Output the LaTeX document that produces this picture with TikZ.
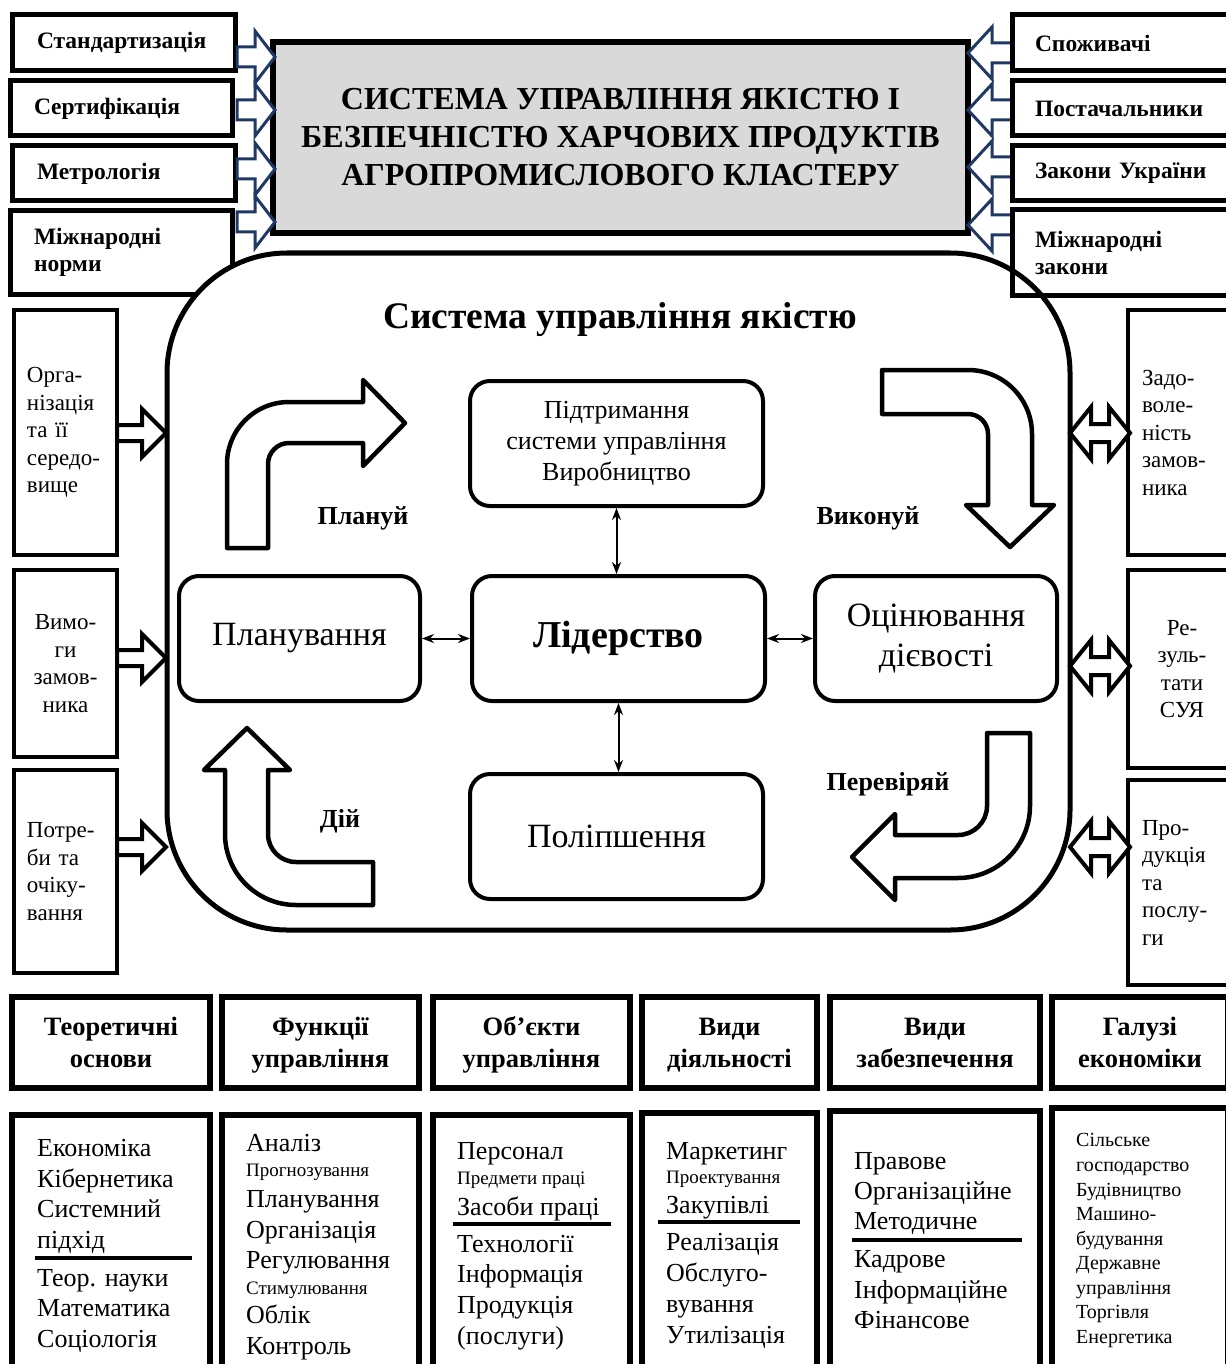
\documentclass[tikz,border=0pt]{standalone}
\usepackage{fontspec}
\setmainfont{Liberation Serif}
\usetikzlibrary{arrows.meta, calc}

\definecolor{arrowblue}{RGB}{31,56,100}
\definecolor{titlegray}{RGB}{217,217,217}

\newcommand{\fs}[2]{\fontsize{#1}{#2}\selectfont}
\newcommand{\sm}{\fontsize{19}{22}\selectfont}

\begin{document}
\begin{tikzpicture}[x=1pt, y=-1pt, >=Stealth,
    thickbox/.style={draw, line width=5pt, inner sep=0pt},
    topbox/.style={thickbox, font=\bfseries\fs{23.5}{27}, align=left},
    sidebox/.style={thickbox, line width=4.5pt, font=\fs{23}{27.5}},
    innerbox/.style={draw, line width=4pt, rounded corners=20pt, align=center},
    headbox/.style={thickbox, line width=6pt, font=\bfseries\fs{26.5}{32}, align=center, text depth=0pt},
    listbox/.style={thickbox, line width=6pt, anchor=north},
    listtext/.style={anchor=base west, inner sep=0pt, font=\fs{26}{30}},
    smalltext/.style={anchor=base west, inner sep=0pt, font=\fs{20}{24}},
    infarrow/.style={draw=arrowblue, line width=3pt, fill=white},
    blkarrow/.style={draw, line width=4pt, fill=white},
    turnarrow/.style={draw, line width=4.5pt, fill=white, line join=round},
    cyclelabel/.style={font=\bfseries\fs{26}{30}},
    seprule/.style={line width=4pt},
  ]
  \useasboundingbox (0,0) rectangle (1225,1364);
  \fill[white] (0,0) rectangle (1225,1364);

  % inputs on the left of the title
  \node[topbox, minimum width=223pt, minimum height=56pt, text width=173pt] (std) at (123.5,43) {Стандартизація};
  \node[topbox, minimum width=222pt, minimum height=55pt, text width=174pt] (cert) at (121,108.5) {Сертифікація};
  \node[topbox, minimum width=223pt, minimum height=55pt, text width=173pt] (metr) at (123.5,173.5) {Метрологія};
  \node[topbox, minimum width=222pt, minimum height=83pt, text width=174pt] (inorm) at (121,252.5) {Міжнародні\\норми};

  % title
  \node[draw, line width=5.5pt, fill=titlegray, minimum width=695pt, minimum height=191pt,
        align=center, font=\bfseries\fs{32}{38}] (title) at (620.5,137.5)
        {СИСТЕМА УПРАВЛІННЯ ЯКІСТЮ І\\БЕЗПЕЧНІСТЮ ХАРЧОВИХ ПРОДУКТІВ\\АГРОПРОМИСЛОВОГО КЛАСТЕРУ};

  \foreach \y in {57,110,169,222}
    \draw[infarrow] (237,\y-10) -- (255,\y-10) -- (255,\y-26) -- (275,\y)
      -- (255,\y+26) -- (255,\y+10) -- (237,\y+10) -- cycle;
  \foreach \y in {53,110,167,225}
    \draw[infarrow] (1012,\y-10) -- (992,\y-10) -- (992,\y-26) -- (968,\y)
      -- (992,\y+26) -- (992,\y+10) -- (1012,\y+10) -- cycle;

  % quality management system
  \node[draw, line width=5pt, fill=white, rounded corners=120pt,
        minimum width=903pt, minimum height=677pt] (qms) at (618.5,591.5) {};
  \node[font=\bfseries\fs{37.5}{42}] (qmstitle) at (620,320) {Система управління якістю};

  % inputs on the right of the title
  \node[topbox, minimum width=228pt, minimum height=56pt, text width=182pt] (cons) at (1126,43) {Споживачі};
  \node[topbox, minimum width=228pt, minimum height=55pt, text width=182pt] (supl) at (1126,108.5) {Постачальники};
  \node[topbox, minimum width=228pt, minimum height=55pt, text width=182pt] (laws) at (1126,173.5) {Закони України};
  \node[topbox, minimum width=228pt, minimum height=85pt, text width=182pt] (ilaws) at (1126,252.5) {Міжнародні\\закони};

  % PDCA
  \node[innerbox, minimum width=293pt, minimum height=125pt, font=\fs{26}{31}] (supp) at (616.5,443.5)
    {Підтримання\\системи управління\\Виробництво};
  \node[innerbox, minimum width=241pt, minimum height=125pt, font=\fs{34}{40}] (plan) at (299.5,638.5) {Планування};
  \node[innerbox, minimum width=293pt, minimum height=125pt, font=\bfseries\fs{38}{44}] (lead) at (618.5,638.5) {Лідерство};
  \node[innerbox, minimum width=242pt, minimum height=125pt, font=\fs{34}{40}] (eval) at (936,638.5) {Оцінювання\\дієвості};
  \node[innerbox, minimum width=293pt, minimum height=125pt, font=\fs{34}{40}] (impr) at (616.5,836.5) {Поліпшення};

  \draw[<->, line width=2pt] (supp.south) -- (supp.south |- lead.north);
  \draw[<->, line width=2pt] (lead.south) -- (lead.south |- impr.north);
  \draw[<->, line width=2pt] (plan.east) -- (lead.west);
  \draw[<->, line width=2pt] (lead.east) -- (eval.west);

  % turning arrows
  \draw[turnarrow] (227,548) -- (227,464) arc[start angle=180, end angle=90, radius=62pt]
    -- (363,402) -- (363,380) -- (405,423) -- (363,466) -- (363,443) -- (289,443)
    arc[start angle=90, end angle=180, radius=21pt] -- (268,548) -- cycle;
  \draw[turnarrow] (882,370) -- (968,370) arc[start angle=90, end angle=0, radius=64pt]
    -- (1032,505) -- (1054,505) -- (1010,547) -- (966,505) -- (988,505) -- (988,434)
    arc[start angle=0, end angle=90, radius=20pt] -- (882,414) -- cycle;
  \draw[turnarrow] (987,733) -- (1030,733) -- (1030,806) arc[start angle=0, end angle=-90, radius=72pt]
    -- (895,878) -- (895,900) -- (852,857) -- (895,814) -- (895,835) -- (958,835)
    arc[start angle=-90, end angle=0, radius=29pt] -- cycle;
  \draw[turnarrow] (373,862) -- (296,862) arc[start angle=270, end angle=180, radius=28pt]
    -- (268,770) -- (290,770) -- (247,728) -- (204,770) -- (225,770) -- (225,834)
    arc[start angle=180, end angle=270, radius=71pt] -- (373,905) -- cycle;

  \node[cyclelabel] (lplan) at (363,518) {Плануй};
  \node[cyclelabel] (ldo) at (868,518) {Виконуй};
  \node[cyclelabel] (lcheck) at (888,784) {Перевіряй};
  \node[cyclelabel] (lact) at (340,821) {Дій};

  % left side
  \node[sidebox, minimum width=103pt, minimum height=245pt, text width=77pt, align=left] (org) at (65.5,432.5)
    {Орга-\\нізація\\та її\\середо-\\вище};
  \node[sidebox, minimum width=103pt, minimum height=187pt, align=center] (req) at (65.5,663.5)
    {Вимо-\\ги\\замов-\\ника};
  \node[sidebox, minimum width=103pt, minimum height=203pt, text width=77pt, align=left] (needs) at (65.5,871.5)
    {Потре-\\би та\\очіку-\\вання};
  \foreach \y in {433,658,847}
    \draw[blkarrow] (117,\y-8) -- (142,\y-8) -- (142,\y-24) -- (166,\y)
      -- (142,\y+24) -- (142,\y+8) -- (117,\y+8) -- cycle;

  % right side
  \node[sidebox, minimum width=108pt, minimum height=245pt, text width=80pt, align=left] (sat) at (1182,432.5)
    {Задо-\\воле-\\ність\\замов-\\ника};
  \node[sidebox, minimum width=108pt, minimum height=198pt, align=center] (res) at (1182,669)
    {Ре-\\зуль-\\тати\\СУЯ};
  \node[sidebox, minimum width=108pt, minimum height=205pt, text width=80pt, align=left] (prod) at (1182,882.5)
    {Про-\\дукція\\та\\послу-\\ги};
  \foreach \y in {433,666,847}
    \draw[blkarrow] (1070,\y) -- (1091,\y-26) -- (1091,\y-9) -- (1109,\y-9) -- (1109,\y-26)
      -- (1130,\y) -- (1109,\y+26) -- (1109,\y+9) -- (1091,\y+9) -- (1091,\y+26) -- cycle;

  % bottom headers
  \node[headbox, minimum width=198pt, minimum height=91pt] (h1) at (111,1042.5) {Теоретичні\\основи};
  \node[headbox, minimum width=197pt, minimum height=91pt] (h2) at (320.5,1042.5) {Функції\\управління};
  \node[headbox, minimum width=197pt, minimum height=91pt] (h3) at (531.5,1042.5) {Об’єкти\\управління};
  \node[headbox, minimum width=175pt, minimum height=91pt] (h4) at (729.5,1042.5) {Види\\діяльності};
  \node[headbox, minimum width=210pt, minimum height=91pt] (h5) at (935,1042.5) {Види\\забезпечення};
  \node[headbox, minimum width=176pt, minimum height=91pt] (h6) at (1140,1042.5) {Галузі\\економіки};

  % bottom lists
  \node[listbox, minimum width=198pt, minimum height=300pt] (b1) at (111,1112) {};
  \node[listbox, minimum width=197pt, minimum height=300pt] (b2) at (320.5,1112) {};
  \node[listbox, minimum width=197pt, minimum height=300pt] (b3) at (531.5,1112) {};
  \node[listbox, minimum width=175pt, minimum height=300pt] (b4) at (729.5,1110) {};
  \node[listbox, minimum width=210pt, minimum height=300pt] (b5) at (935,1108) {};
  \node[listbox, minimum width=176pt, minimum height=300pt] (b6) at (1140,1105) {};

  \foreach \t/\y [count=\i] in {Економіка/1156, Кібернетика/1187, Системний/1217, підхід/1248,
      Теор. науки/1286, Математика/1316, Соціологія/1347}
    \node[listtext] (th-\i) at (37,\y) {\t};
  \draw[seprule] (35,1258) -- (192,1258);

  \foreach \t/\y [count=\i] in {Аналіз/1151, {\sm Прогнозування}/1176, Планування/1207,
      Організація/1238, Регулювання/1268, {\sm Стимулювання}/1294, Облік/1323, Контроль/1354}
    \node[listtext] (fn-\i) at (246,\y) {\t};

  \foreach \t/\y [count=\i] in {Персонал/1159, {\sm Предмети праці}/1184, Засоби праці/1215,
      Технології/1252, Інформація/1282, Продукція/1313, (послуги)/1344}
    \node[listtext] (ob-\i) at (457,\y) {\t};
  \draw[seprule] (453,1224) -- (611,1224);

  \foreach \t/\y [count=\i] in {Маркетинг/1159, {\sm Проектування}/1183, Закупівлі/1213,
      Реалізація/1250, Обслуго-/1281, вування/1312, Утилізація/1343}
    \node[listtext] (ac-\i) at (666,\y) {\t};
  \draw[seprule] (658,1222) -- (800,1222);

  \foreach \t/\y [count=\i] in {Правове/1169, Організаційне/1199, Методичне/1229,
      Кадрове/1267, Інформаційне/1298, Фінансове/1328}
    \node[listtext] (sp-\i) at (854,\y) {\t};
  \draw[seprule] (852,1240) -- (1022,1240);

  \foreach \t/\y [count=\i] in {Сільське/1146, господарство/1171, Будівництво/1196, Машино-/1220,
      будування/1245, Державне/1269, управління/1294, Торгівля/1318, Енергетика/1343}
    \node[smalltext] (br-\i) at (1076,\y) {\t};
\end{tikzpicture}
\end{document}
